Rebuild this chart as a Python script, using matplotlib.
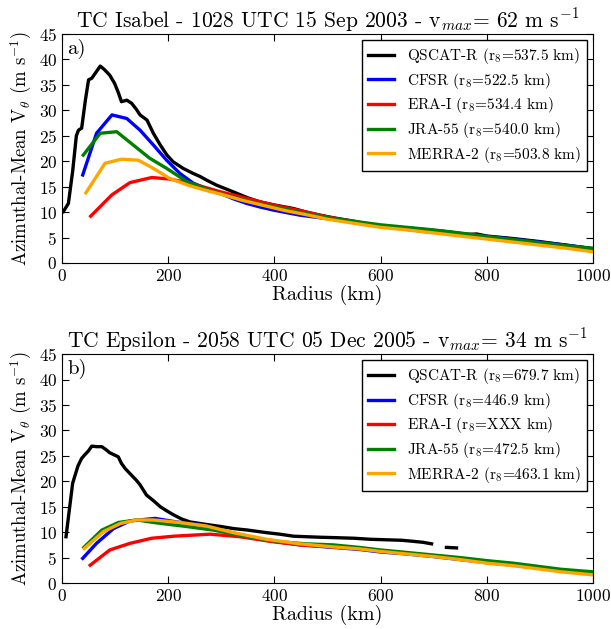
import numpy as np
import matplotlib
matplotlib.use("Agg")
import matplotlib.pyplot as plt

plt.rcParams["font.family"] = "serif"
plt.rcParams["font.serif"] = ["cmr10"]
plt.rcParams["mathtext.fontset"] = "cm"
plt.rcParams["axes.formatter.use_mathtext"] = True
plt.rcParams["axes.unicode_minus"] = False

# ---- TC Isabel (panel a) ----
isabel_qscat_r = [2.5, 12, 20, 27, 31, 37, 44, 50, 56, 64, 72, 80, 90, 99, 106, 112, 122, 131,
                  140, 147, 160, 172, 185, 197, 209, 228, 247, 260, 272, 291, 310, 329, 350,
                  373, 400, 436, 460, 486, 510, 550, 600, 650, 690, 712, 735, 760, 781, 800,
                  850, 900, 950, 1000]
isabel_qscat_v = [10.1, 11.7, 18, 25, 26.1, 26.5, 32, 36, 36.3, 37.5, 38.7, 38, 36.9, 35.3, 33.5,
                  31.7, 32, 31.4, 30.2, 29.1, 28.1, 25.5, 23.2, 21.3, 19.9, 18.6, 17.6, 17.0,
                  16.3, 15.3, 14.5, 13.7, 12.8, 12.0, 11.4, 10.7, 10.0, 9.4, 8.9, 8.2, 7.2, 6.6,
                  6.1, 6.3, 6.0, 5.6, 5.7, 5.3, 4.8, 4.2, 3.5, 2.8]

isabel_cfsr_r = [39, 65, 94, 122, 147, 172, 197, 222, 247, 272, 298, 323, 348, 373, 398, 423,
                 448, 500, 550, 600, 650, 700, 750, 800, 850, 900, 950, 1000]
isabel_cfsr_v = [17.3, 25.5, 29.1, 28.4, 26.1, 23.2, 20.2, 17.6, 15.7, 14.6, 13.7, 12.6, 11.7,
                 11.0, 10.4, 9.9, 9.4, 8.7, 8.0, 7.3, 6.9, 6.4, 5.8, 5.2, 4.7, 4.1, 3.5, 2.8]

isabel_erai_r = [54, 94, 128, 169, 203, 241, 298, 348, 398, 448, 498, 550, 600, 650, 700, 750,
                 800, 850, 900, 950, 1000]
isabel_erai_v = [9.2, 13.4, 15.8, 16.8, 16.5, 15.7, 14.0, 12.7, 11.4, 10.3, 9.1, 8.1, 7.2, 6.7,
                 6.1, 5.5, 4.9, 4.3, 3.8, 3.1, 2.4]

isabel_jra_r = [40, 72, 103, 134, 165, 197, 235, 285, 320, 360, 400, 450, 500, 550, 600, 650,
                700, 750, 800, 850, 900, 950, 1000]
isabel_jra_v = [21.2, 25.5, 25.8, 23.2, 20.6, 18.6, 16.0, 14.0, 13.0, 11.9, 11.0, 9.9, 8.9, 8.2,
                7.5, 7.0, 6.5, 5.9, 5.2, 4.6, 4.0, 3.4, 2.9]

isabel_merra_r = [45, 81, 112, 144, 172, 203, 240, 270, 300, 340, 380, 420, 460, 500, 550, 600,
                  650, 700, 750, 800, 850, 900, 950, 1000]
isabel_merra_v = [13.8, 19.6, 20.4, 20.2, 18.6, 16.6, 15.2, 14.3, 13.5, 12.3, 11.3, 10.3, 9.5,
                  8.6, 7.8, 7.0, 6.5, 5.9, 5.3, 4.7, 4.1, 3.5, 2.9, 2.2]

# ---- TC Epsilon (panel b) ----
epsilon_qscat_r = [7.5, 20, 30, 37, 42, 50, 56, 65, 75, 83, 90, 106, 112, 119, 128, 140, 147, 159,
                   172, 185, 197, 210, 225, 241, 260, 279, 300, 323, 350, 385, 410, 436, 460,
                   486, 520, 550, 580, 610, 640, 661, 680, 696, 710, 724, 743]
epsilon_qscat_v = [9.1, 19.6, 23, 24.5, 25.1, 26, 26.9, 26.8, 26.8, 26.2, 25.6, 24.8, 23.5, 22.5,
                   21.5, 20.2, 19.3, 17.3, 16.2, 15.0, 14.2, 13.4, 12.6, 12.0, 11.7, 11.4, 11.1,
                   10.7, 10.4, 9.9, 9.6, 9.2, 9.1, 9.0, 8.9, 8.8, 8.6, 8.5, 8.4, 8.2, 8.0, 7.7,
                   np.nan, 7.0, 6.9]

epsilon_cfsr_r = [39, 65, 97, 128, 175, 216, 266, 323, 385, 448, 510, 560, 600, 650, 700, 750,
                  800, 850, 900, 950, 1000]
epsilon_cfsr_v = [4.85, 7.8, 10.7, 12.2, 12.7, 12.0, 11.4, 9.8, 8.4, 7.5, 7.0, 6.6, 6.1, 5.7,
                  5.2, 4.6, 4.0, 3.5, 2.9, 2.3, 1.8]

epsilon_erai_r = [53, 90, 128, 169, 210, 279, 335, 398, 448, 510, 560, 600, 650, 700, 750, 800,
                  850, 900, 950, 1000]
epsilon_erai_v = [3.5, 6.5, 7.8, 8.8, 9.2, 9.6, 9.1, 8.1, 7.5, 7.1, 6.7, 6.3, 5.8, 5.3, 4.7, 4.1,
                  3.6, 3.0, 2.4, 1.9]

epsilon_jra_r = [41, 75, 106, 141, 172, 235, 285, 348, 410, 460, 510, 560, 600, 650, 700, 750,
                 800, 850, 880, 940, 1000]
epsilon_jra_v = [7.0, 10.4, 11.9, 12.4, 11.9, 11.1, 10.4, 9.1, 8.1, 7.7, 7.5, 7.0, 6.5, 6.0, 5.5,
                 5.0, 4.4, 3.9, 3.5, 2.7, 2.2]

epsilon_merra_r = [42, 78, 110, 141, 172, 222, 272, 323, 385, 448, 510, 560, 600, 650, 700, 750,
                   800, 850, 880, 940, 1000]
epsilon_merra_v = [6.8, 10.1, 11.7, 12.4, 12.4, 11.9, 11.2, 9.9, 8.6, 7.7, 7.1, 6.7, 6.2, 5.7,
                   5.2, 4.6, 3.9, 3.4, 3.0, 2.2, 1.6]

names = ["QSCAT-R", "CFSR", "ERA-I", "JRA-55", "MERRA-2"]
colors = ["black", "blue", "red", "green", "orange"]
isabel_r8 = ["537.5", "522.5", "534.4", "540.0", "503.8"]
epsilon_r8 = ["679.7", "446.9", "XXX", "472.5", "463.1"]

panels = [
    dict(title=r"TC Isabel - 1028 UTC 15 Sep 2003 - v$_{max}$= 62 m s$^{-1}$",
         tag="a)", r8=isabel_r8,
         series=[(isabel_qscat_r, isabel_qscat_v), (isabel_cfsr_r, isabel_cfsr_v),
                 (isabel_erai_r, isabel_erai_v), (isabel_jra_r, isabel_jra_v),
                 (isabel_merra_r, isabel_merra_v)]),
    dict(title=r"TC Epsilon - 2058 UTC 05 Dec 2005 - v$_{max}$= 34 m s$^{-1}$",
         tag="b)", r8=epsilon_r8,
         series=[(epsilon_qscat_r, epsilon_qscat_v), (epsilon_cfsr_r, epsilon_cfsr_v),
                 (epsilon_erai_r, epsilon_erai_v), (epsilon_jra_r, epsilon_jra_v),
                 (epsilon_merra_r, epsilon_merra_v)]),
]

fig = plt.figure(figsize=(6.11, 6.29), dpi=100)
ax_pos = [[0.1015, 0.5819, 0.869, 0.364], [0.1015, 0.0731, 0.869, 0.364]]

for pos, p in zip(ax_pos, panels):
    ax = fig.add_axes(pos)
    for (r, v), name, c, r8 in zip(p["series"], names, colors, p["r8"]):
        ax.plot(r, v, color=c, lw=2.4, label=name + r" (r$_8$=" + r8 + " km)")
    ax.set_xlim(0, 1000)
    ax.set_ylim(0, 45)
    ax.set_xticks(np.arange(0, 1001, 200))
    ax.set_yticks(np.arange(0, 46, 5))
    ax.tick_params(direction="in", top=True, right=True, labelsize=12.5, length=5)
    ax.set_xlabel("Radius (km)", fontsize=14.5, labelpad=1)
    ax.set_ylabel(r"Azimuthal-Mean V$_\theta$ (m s$^{-1}$)", fontsize=13.5, labelpad=3)
    ax.set_title(p["title"], fontsize=15.5, pad=5)
    ax.text(0.01, 0.98, p["tag"], transform=ax.transAxes, fontsize=15, va="top", ha="left")
    leg = ax.legend(loc="upper right", fontsize=11, handlelength=1.7, fancybox=False,
                    framealpha=1, edgecolor="black", borderaxespad=0.4, labelspacing=0.3)
    leg.get_frame().set_linewidth(1.0)

fig.savefig("out.png", dpi=100)
